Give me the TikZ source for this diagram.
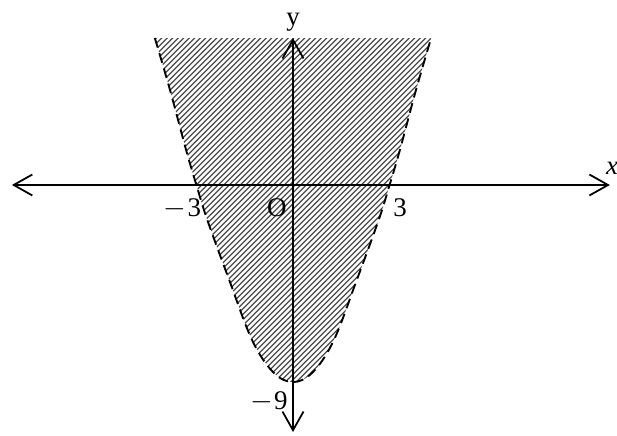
\documentclass[tikz,border=0pt]{standalone}
\usepackage{fontspec}
\setmainfont{Liberation Serif}
\usetikzlibrary{arrows.meta}
\definecolor{hatch}{HTML}{4A4A4A}

\tikzset{
  axisline/.style={line width=1.5pt,
    {Straight Barb[length=0.56cm,width=0.63cm]}-{Straight Barb[length=0.56cm,width=0.63cm]}},
  rimline/.style={line width=1.6pt,dash pattern=on 8.5pt off 5pt},
  hatchline/.style={hatch,line width=1.1pt},
  lbl/.style={inner sep=0pt,font=\fontsize{23}{26}\selectfont}
}

\begin{document}
\begin{tikzpicture}[x=0.966cm,y=0.657cm]
  \useasboundingbox (-9.099,-11.416) rectangle (10.062,8.447);
  \def\rim{plot[smooth,tension=0.6] coordinates {(-4.29,6.71) (-3.82,4.34) (-3.32,1.6) (-3,0)
    (-2.66,-1.6) (-1.98,-4.34) (-1.27,-7.08) (-0.62,-8.54) (0,-9)
    (0.62,-8.54) (1.27,-7.08) (1.98,-4.34) (2.66,-1.6) (3,0) (3.32,1.6) (3.82,4.34) (4.29,6.71)}}

  % Shaded region
  \begin{scope}
    \clip \rim;
    \begin{scope}[x=1cm,y=1cm]
      \foreach \k in {0,...,125}
        \draw[hatchline] (-16+\k*0.165,-6.5) -- ++(11.5,11.5);
    \end{scope}
  \end{scope}

  % Dashed boundary
  \draw[rimline] \rim;

  % Axes
  \coordinate (xl) at (-8.73,0);
  \coordinate (xr) at (9.84,0);
  \coordinate (yt) at (0,6.71);
  \coordinate (yb) at (0,-11.28);
  \draw[axisline] (xl) -- (xr);
  \draw[axisline] (yb) -- (yt);

  % Labels
  \node[lbl,anchor=base] (ylab) at (0,7.26) {y};
  \node[lbl,anchor=base west] (xlab) at (9.72,0.46) {\itshape x};
  \node[lbl,anchor=base east] (mthree) at (-2.85,-1.46) {$-$\kern1pt3};
  \node[lbl,anchor=base east] (orig) at (-0.19,-1.46) {O};
  \node[lbl,anchor=base west] (pthree) at (3.11,-1.46) {3};
  \node[lbl,anchor=base east] (mnine) at (-0.16,-10.27) {$-$\kern1pt9};
\end{tikzpicture}
\end{document}
